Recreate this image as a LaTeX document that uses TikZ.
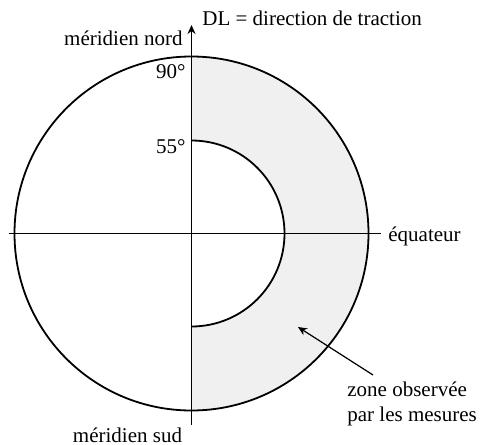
\documentclass[tikz,border=0pt]{standalone}
\usepackage{fontspec}
\setmainfont{Liberation Serif}
\usepackage{tikz}
\usetikzlibrary{arrows.meta}
\tikzset{
  ax/.style={line width=0.7pt},
  circ/.style={line width=0.9pt},
  zon/.style={fill=gray!12},
  ptr/.style={line width=0.6pt,-{Stealth[length=4.5pt,width=4pt]}},
  lbl/.style={inner sep=0pt,font=\fontsize{10.5}{12.5}\selectfont}
}

\begin{document}
\begin{tikzpicture}[x=0.5pt,y=0.5pt]
\useasboundingbox (-191.5,-210.5) rectangle (293.5,233.5);
\fill[zon] (0,177) arc (90:-90:177) -- (0,-93) arc (-90:90:93) -- cycle;
\draw[circ] (0,0) circle (177);
\draw[circ] (0,93) arc (90:-90:93);
\coordinate (S) at (0,-191.5); \coordinate (N) at (0,208.5);
\coordinate (W) at (-182.5,0); \coordinate (E) at (189.5,0);
\draw[ax,-{Stealth[length=4.5pt,width=4pt]}] (S) -- (N);
\draw[ax] (W) -- (E);
\node[lbl,anchor=west] (dl) at (10.5,215.5) {DL = direction de traction};
\node[lbl,anchor=east] (nord) at (-8.5,195.5) {méridien nord};
\node[lbl,anchor=east] (n90) at (-5.5,161.5) {90°};
\node[lbl,anchor=east] (n55) at (-5.5,86.5) {55°};
\node[lbl,anchor=west] (equ) at (196.5,-2.5) {équateur};
\node[lbl] (sud) at (-64,-201.5) {méridien sud};
\node[lbl,anchor=west,align=left] (obs) at (155.5,-170.5) {zone observée\\par les mesures};
\coordinate (tail) at (181.5,-141.5); \coordinate (tip) at (106.5,-93.5);
\draw[ptr] (tail) -- (tip);
\end{tikzpicture}
\end{document}
